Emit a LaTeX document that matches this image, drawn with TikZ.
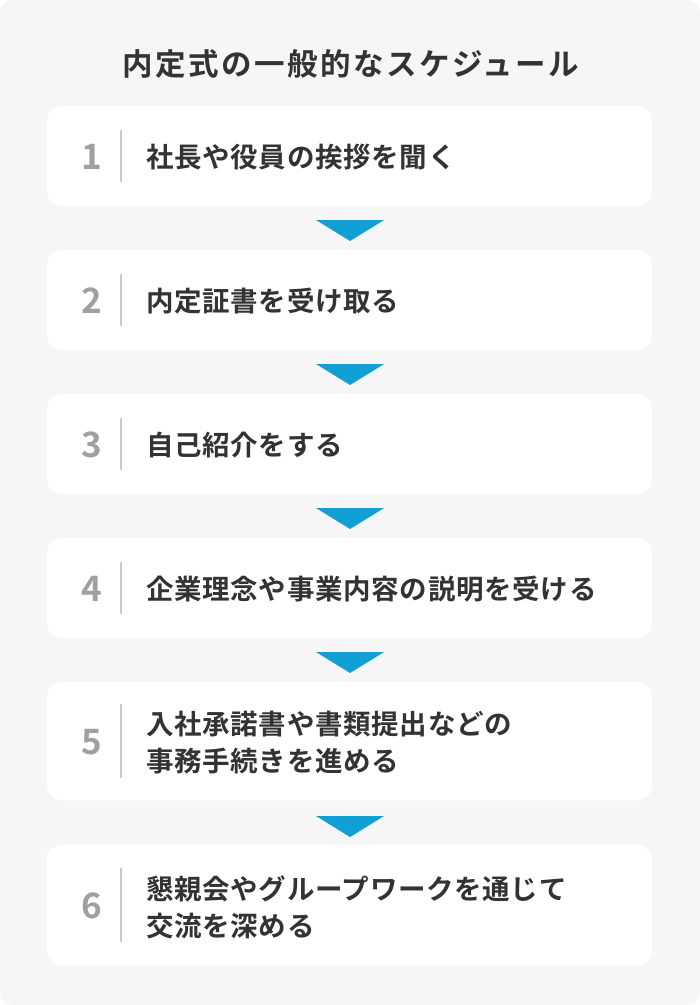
\documentclass[tikz,border=0pt]{standalone}
\usepackage{fontspec}
\newfontfamily\jpb{Noto Sans CJK JP Bold}
\newfontfamily\jpbt{Noto Sans CJK JP Bold}[LetterSpace=8]
\newfontfamily\jpbi{Noto Sans CJK JP Bold}[LetterSpace=2.5]
\definecolor{bgc}{RGB}{246,246,246}
\definecolor{txt}{RGB}{51,51,51}
\definecolor{numc}{RGB}{160,160,160}
\definecolor{divc}{RGB}{200,200,200}
\definecolor{arrc}{RGB}{16,160,214}
\tikzset{
  card/.style={fill=white, rounded corners=14pt},
  num/.style={text=numc, font=\jpb\fontsize{35}{35}\selectfont, inner sep=0pt},
  item/.style={text=txt, font=\jpbi\fontsize{27.5}{37}\selectfont, inner sep=0pt, align=left, anchor=west},
  divline/.style={draw=divc, line width=1.6pt},
  tri/.style={fill=arrc}
}
\begin{document}
\begin{tikzpicture}[x=1pt,y=-1pt]
\useasboundingbox (0,0) rectangle (700,1005);
\fill[bgc, rounded corners=12pt] (0,0) rectangle (700,1005);
\node[text=txt, font=\jpbt\fontsize{30.5}{30}\selectfont, inner sep=0pt] (title) at (351,64) {内定式の一般的なスケジュール};
% cards
\foreach \i/\t/\b in {1/106/206, 2/250/350, 3/394/494, 4/538/638, 5/682/800, 6/845/965}{
  \fill[card] (47,\t) rectangle (652,\b);
}
\foreach \i/\c/\h in {1/156/26, 2/300/26, 3/444/26, 4/588/26, 5/741/37, 6/905/37}{
  \node[num] (n\i) at (92,\c+1) {\i};
  \coordinate (dt\i) at (121,\c-\h);
  \coordinate (db\i) at (121,\c+\h);
  \draw[divline] (dt\i) -- (db\i);
}
\node[item] (t1) at (146,157) {社長や役員の挨拶を聞く};
\node[item] (t2) at (146,301) {内定証書を受け取る};
\node[item] (t3) at (146,445) {自己紹介をする};
\node[item] (t4) at (146,589) {企業理念や事業内容の説明を受ける};
\node[item] (t5) at (146,743) {入社承諾書や書類提出などの\\事務手続きを進める};
\node[item] (t6) at (146,907) {懇親会やグループワークを通じて\\交流を深める};
% arrows
\foreach \a/\y in {1/220, 2/364, 3/508, 4/652, 5/816}{
  \coordinate (al\a) at (316,\y);
  \coordinate (ar\a) at (384,\y);
  \coordinate (ab\a) at (350,\y+21);
  \fill[tri] (al\a) -- (ar\a) -- (ab\a) -- cycle;
}
\end{tikzpicture}
\end{document}
